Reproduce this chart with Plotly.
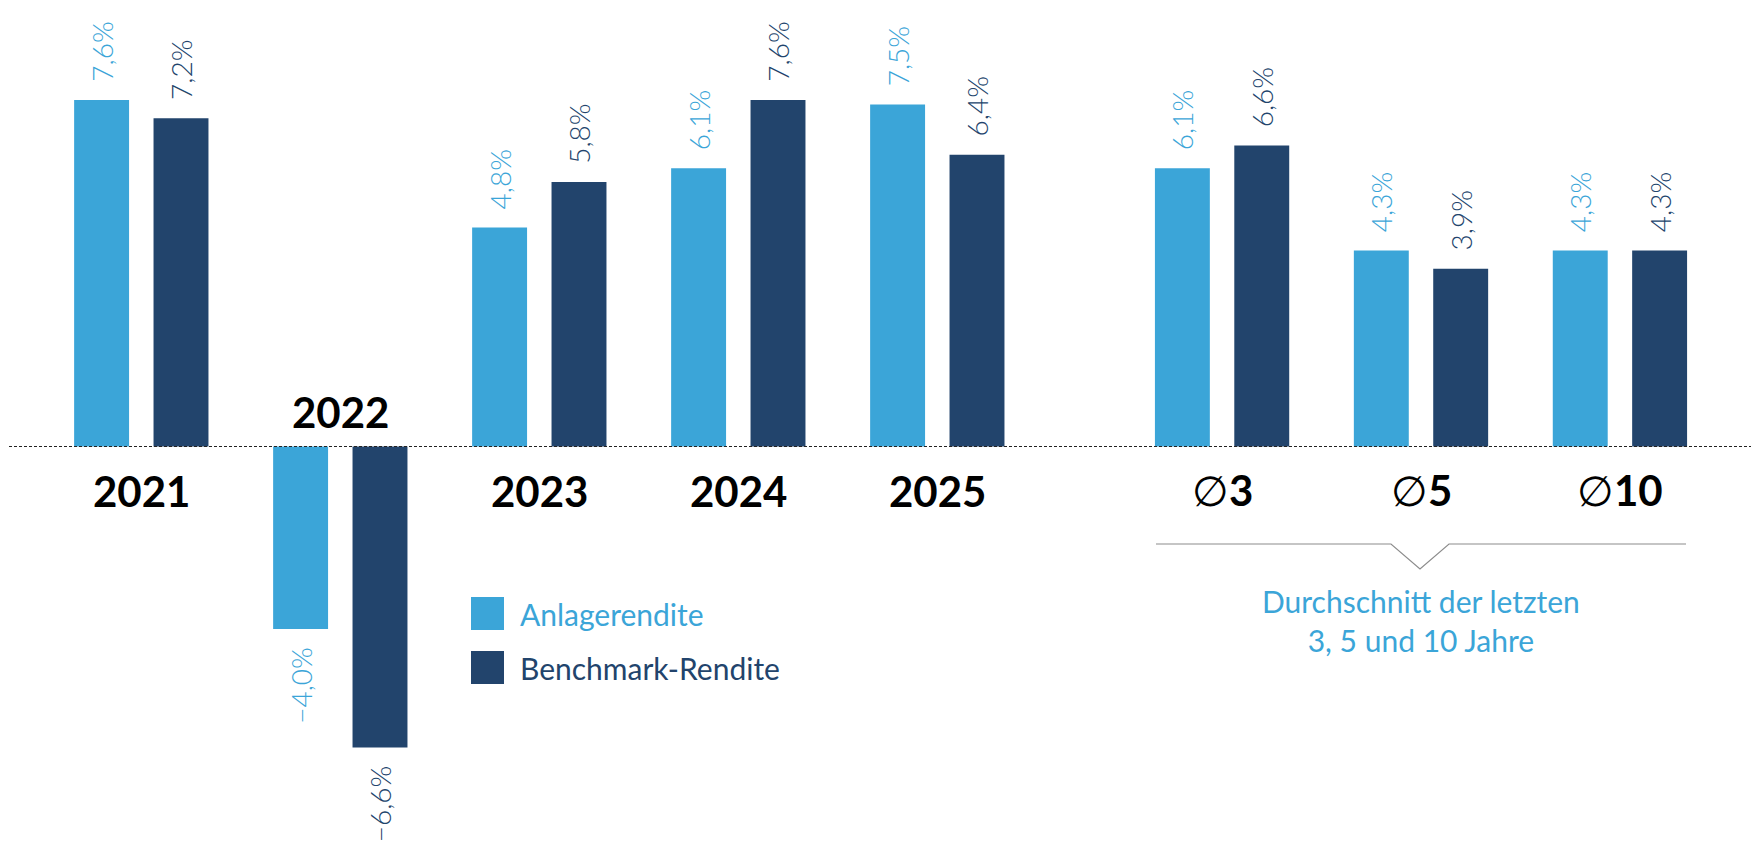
import plotly.graph_objects as go

# data
years = ["2021", "2022", "2023", "2024", "2025"]
anlage_years = [7.6, -4.0, 4.8, 6.1, 7.5]
bench_years = [7.2, -6.6, 5.8, 7.6, 6.4]

avg_periods = ["3", "5", "10"]
anlage_avg = [6.1, 4.3, 4.3]
bench_avg = [6.6, 3.9, 4.3]

series_names = ["Anlagerendite", "Benchmark-Rendite"]
avg_note = "Durchschnitt der letzten<br>3, 5 und 10 Jahre"

LIGHT = "#3ba5d8"
DARK = "#22446c"
FONT = "Lato"
OFF = 8  # page body margin
W, H = 1759 - 2 * OFF, 865 - 2 * OFF
PAD = "\u00a0" * 2


def label(v):
    s = f"{abs(v):.1f}".replace(".", ",") + "%"
    return "\u2212" + s + PAD if v < 0 else PAD + s


def px(x):
    return (x - OFF) / W


def py(y):
    return 1 - (y - OFF) / H


avg_cats = ["Ø" + p for p in avg_periods]
DIAM = "<span style='font-family:DejaVu Sans;font-weight:200'>∅</span>"

fig = go.Figure()

groups = [(years, anlage_years, bench_years, "x", lambda c: f"<b>{c}</b>"),
          (avg_cats, anlage_avg, bench_avg, "x2", lambda c: f"{DIAM}<b>{c[1:]}</b>")]

for xs, vals_a, vals_b, xa, _ in groups:
    for name, vals, col in [(series_names[0], vals_a, LIGHT), (series_names[1], vals_b, DARK)]:
        fig.add_trace(go.Bar(
            x=xs, y=vals, name=name, xaxis=xa, yaxis="y",
            marker=dict(color=col, line=dict(width=0)),
            text=[label(v) for v in vals],
            textposition="outside", textangle=-90, constraintext="none",
            textfont=dict(family=FONT, size=28, color=col, weight=300),
            cliponaxis=False, showlegend=False, hoverinfo="skip",
        ))

# category labels: below zero line, above it where the bars are negative
annotations = []
for xs, va, vb, xr, fmt in groups:
    for i, (c, a, b) in enumerate(zip(xs, va, vb)):
        neg = min(a, b) < 0
        annotations.append(dict(
            x=i, y=0, xref=xr, yref="y", text=fmt(c), showarrow=False,
            yanchor="middle", yshift=35 if neg else -44,
            font=dict(family=FONT, size=42, color="#000000"),
        ))

# hand-made legend
shapes = []
for i, (name, col) in enumerate(zip(series_names, [LIGHT, DARK])):
    y0 = 597 + i * 54
    shapes.append(dict(type="rect", xref="paper", yref="paper",
                       x0=px(471), x1=px(504), y0=py(y0 + 33), y1=py(y0),
                       fillcolor=col, line=dict(width=0)))
    annotations.append(dict(x=px(518), y=py(y0 + 17), xref="paper", yref="paper",
                            text=name, showarrow=False, xanchor="left", yanchor="middle",
                            font=dict(family=FONT, size=30, color=col)))

# bracket under the averages
shapes.append(dict(type="path", xref="paper", yref="paper",
                   path=f"M {px(1156)},{py(544)} L {px(1391)},{py(544)} L {px(1420)},{py(569)} "
                        f"L {px(1449)},{py(544)} L {px(1686)},{py(544)}",
                   line=dict(color="#8c8c8c", width=1.2)))
annotations.append(dict(x=px(1421), y=py(581), xref="paper", yref="paper",
                        text=avg_note, showarrow=False, align="center",
                        xanchor="center", yanchor="top",
                        font=dict(family=FONT, size=30, color=LIGHT)))

# dashed zero line
shapes.append(dict(type="line", xref="paper", yref="y", x0=px(9), x1=1, y0=0, y1=0,
                   line=dict(color="#222222", width=1, dash="3px,2px"), layer="above"))

base = 446.5 - OFF
scale = 45.6
fig.update_layout(
    width=W, height=H,
    margin=dict(l=0, r=0, t=0, b=0),
    paper_bgcolor="white", plot_bgcolor="white",
    barmode="group", bargap=0.202, bargroupgap=0.308,
    xaxis=dict(domain=[px(41.8), px(1036.8)], visible=False, anchor="y",
               type="category", categoryarray=years, range=[-0.5, len(years) - 0.5]),
    xaxis2=dict(domain=[px(1122.6), px(1719.4)], visible=False, anchor="y",
                type="category", categoryarray=avg_cats, range=[-0.5, len(avg_cats) - 0.5]),
    yaxis=dict(range=[-(H - base) / scale, base / scale], visible=False),
    shapes=shapes, annotations=annotations,
    font=dict(family=FONT),
)

fig.write_html("out.html")
